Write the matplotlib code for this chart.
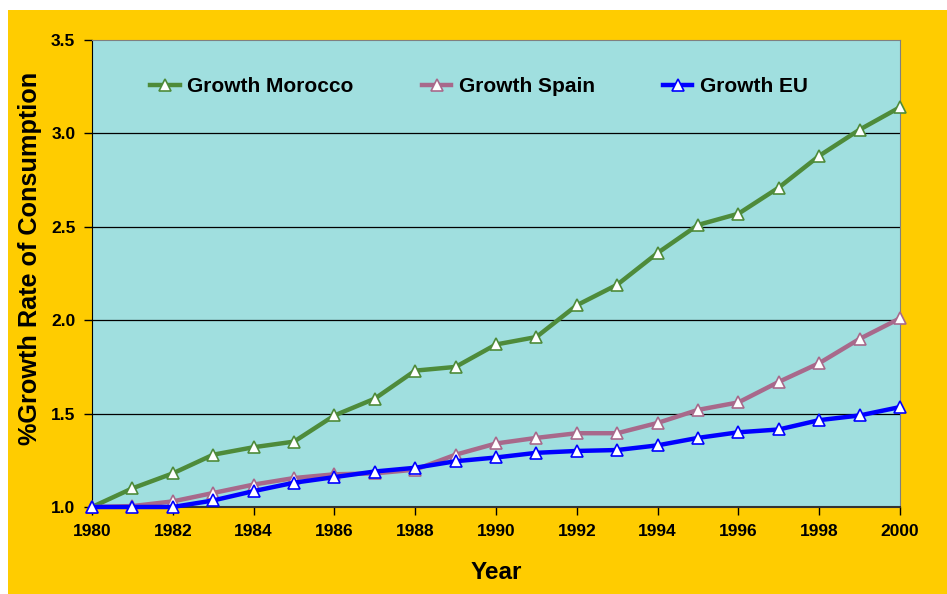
import matplotlib
matplotlib.use('Agg')
import matplotlib.pyplot as plt
from matplotlib.patches import Rectangle

years = list(range(1980, 2001))

growth_morocco = [1.00, 1.10, 1.18, 1.28, 1.32, 1.35, 1.49, 1.58, 1.73, 1.75, 1.87,
                  1.91, 2.08, 2.19, 2.36, 2.51, 2.57, 2.71, 2.88, 3.02, 3.14]
growth_spain = [1.00, 1.005, 1.03, 1.075, 1.12, 1.155, 1.175, 1.18, 1.20, 1.28, 1.34,
                1.37, 1.395, 1.395, 1.45, 1.52, 1.56, 1.67, 1.77, 1.90, 2.01]
growth_eu = [1.00, 1.00, 1.00, 1.035, 1.085, 1.13, 1.16, 1.19, 1.21, 1.245, 1.265,
             1.29, 1.30, 1.305, 1.33, 1.37, 1.40, 1.415, 1.465, 1.49, 1.535]

plt.rcParams['font.family'] = ['Liberation Sans', 'DejaVu Sans']
plt.rcParams['font.weight'] = 'bold'

fig = plt.figure(figsize=(9.47, 5.94), dpi=100)
fig.patch.set_facecolor('white')
bg = Rectangle((8 / 947, 0), 1 - 8 / 947, 1 - 10 / 594,
               transform=fig.transFigure, facecolor='#FFCC00',
               edgecolor='none', zorder=-10)
fig.add_artist(bg)

ax = fig.add_axes([92 / 947, 87 / 594, 808 / 947, 467 / 594])
ax.set_zorder(1)
ax.set_facecolor('#A0DFDF')

series = [
    ('Growth Morocco', growth_morocco, '#4E8B3A'),
    ('Growth Spain', growth_spain, '#A8698B'),
    ('Growth EU', growth_eu, '#0000FF'),
]
for label, vals, color in series:
    ax.plot(years, vals, color=color, linewidth=3.2, marker='^', markersize=8.5,
            markerfacecolor='white', markeredgecolor=color, markeredgewidth=1.2,
            label=label, clip_on=False, zorder=3)

ax.set_xlim(1980, 2000)
ax.set_ylim(1.0, 3.5)
ax.set_xticks(range(1980, 2001, 2))
ax.set_yticks([1.0, 1.5, 2.0, 2.5, 3.0, 3.5])
ax.set_yticklabels(['1.0', '1.5', '2.0', '2.5', '3.0', '3.5'])
ax.tick_params(axis='both', direction='out', length=6, width=1, labelsize=12.5, pad=6)

for y in [1.5, 2.0, 2.5, 3.0]:
    ax.axhline(y, color='black', linewidth=0.9, zorder=1)

ax.spines['left'].set_color('black')
ax.spines['bottom'].set_color('#333333')
ax.spines['bottom'].set_linewidth(1.5)
ax.spines['top'].set_color('#808080')
ax.spines['right'].set_color('#808080')

ax.set_xlabel('Year', fontsize=17.5, fontweight='bold', labelpad=16)
ax.set_ylabel('%Growth Rate of Consumption', fontsize=18.2, fontweight='bold')
ax.yaxis.set_label_coords(-0.062, 0.532)

ax.legend(loc='center', bbox_to_anchor=(0.479, 0.9), ncol=3, frameon=False,
          handlelength=1.4, handletextpad=0.35, columnspacing=3.3,
          prop={'weight': 'bold', 'size': 15})

fig.savefig('out.png', dpi=100, facecolor=fig.get_facecolor())
